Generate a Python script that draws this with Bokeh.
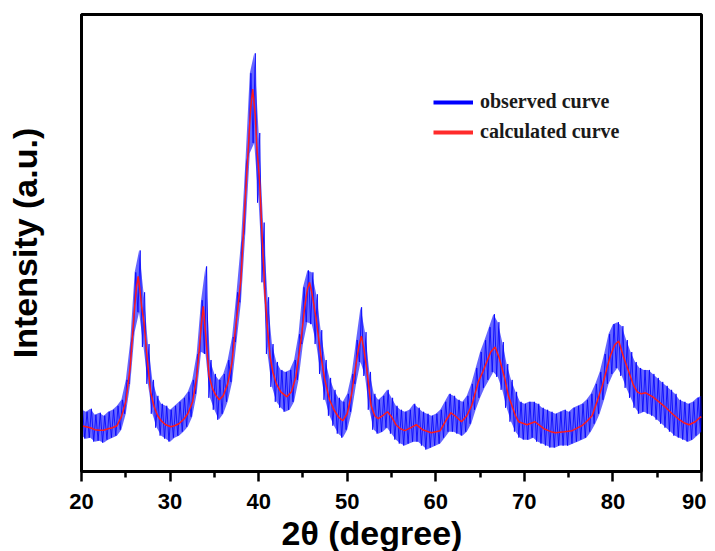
from bokeh.plotting import figure
from bokeh.models import Range1d, FixedTicker, Legend, LegendItem, Title
from bokeh.embed import file_html
from bokeh.resources import INLINE

# ---------------- data ----------------
x_ticks = [20, 30, 40, 50, 60, 70, 80, 90]
x_minor = [25, 35, 45, 55, 65, 75, 85]

# calculated (fitted) curve
calc_2theta = [
    20.0, 20.5, 21.0, 21.5, 22.0, 22.5, 23.0, 23.5, 24.0, 24.5,
    25.0, 25.5, 25.75, 26.0, 26.2, 26.4, 26.6, 26.8, 27.05, 27.4,
    27.8, 28.2, 28.6, 29.0, 29.5, 30.1, 30.5, 31.0, 31.6, 32.0,
    32.55, 33.0, 33.3, 33.5, 33.75, 34.0, 34.4, 34.8, 35.2, 35.55,
    36.0, 36.5, 37.0, 37.25, 37.6, 38.0, 38.4, 38.8, 39.1, 39.33,
    39.6, 39.8, 40.1, 40.45, 40.7, 41.0, 41.3, 41.6, 42.0, 42.5,
    43.2, 43.7, 44.2, 44.8, 45.2, 45.5, 45.75, 46.0, 46.5, 47.0,
    47.45, 48.0, 48.5, 49.0, 49.5, 50.0, 50.5, 51.0, 51.3, 51.6,
    51.9, 52.2, 52.7, 53.1, 53.5, 54.0, 54.55, 55.0, 55.5, 56.0,
    56.5, 57.2, 57.8, 58.5, 59.5, 60.5, 61.2, 61.7, 62.3, 62.9,
    63.5, 64.05, 64.8, 65.3, 65.75, 66.2, 66.7, 67.2, 67.8, 68.2,
    68.6, 69.0, 69.35, 70.3, 71.2, 72.2, 73.0, 73.5, 74.5, 75.4,
    76.5, 77.0, 77.65, 78.2, 78.8, 79.3, 79.7, 80.2, 80.65, 81.2,
    81.8, 82.3, 82.75, 83.2, 83.7, 84.5, 85.2, 86.0, 86.7, 87.5,
    88.0, 88.6, 89.3, 89.9, 90.0,
]
calc_intensity = [
    46, 45, 44, 42, 41.5, 41.5, 43, 44, 46, 55,
    70, 105, 136, 165, 185, 196, 182, 165, 150, 115,
    80, 65, 56, 51, 47, 45, 46, 48, 53, 58,
    70, 95, 123, 145, 166, 140, 96, 83, 76, 72,
    76, 88, 110, 133, 160, 193, 260, 320, 365, 384,
    360, 325, 293, 226, 180, 143, 115, 100, 88, 80,
    75, 80, 95, 133, 165, 183, 190, 180, 153, 118,
    93, 72, 62, 55, 51, 58, 78, 108, 125, 136,
    122, 103, 66, 56, 53, 56, 60, 55, 47, 43,
    41, 44, 47, 42, 39, 41, 52, 59, 55, 50,
    56, 66, 90, 100, 110, 120, 125, 113, 93, 76,
    66, 56, 50, 47, 50, 43, 40, 39, 40, 41,
    46, 50, 56, 70, 86, 103, 116, 127, 131, 115,
    100, 87, 80, 78, 79, 75, 70, 64, 58, 52,
    49, 47, 50, 55, 54,
]

# observed curve: noisy trace, upper / lower excursions every 0.5 degree
obs_2theta = [20.0 + 0.5 * i for i in range(141)]
obs_high = [
    62, 60, 63, 57, 59, 56, 60, 62, 66, 72,
    92, 130, 200, 222, 180, 128, 92, 76, 68, 66,
    62, 66, 70, 74, 80, 92, 118, 172, 206, 112,
    98, 92, 98, 112, 135, 180, 230, 310, 400, 420,
    340, 250, 175, 128, 110, 102, 100, 102, 112, 138,
    185, 202, 200, 178, 142, 112, 94, 82, 74, 70,
    78, 98, 132, 165, 140, 100, 78, 72, 76, 82,
    74, 66, 62, 60, 62, 68, 64, 60, 58, 56,
    58, 62, 70, 78, 76, 72, 70, 76, 88, 104,
    120, 132, 145, 158, 150, 130, 108, 92, 80, 70,
    68, 70, 70, 68, 64, 62, 60, 58, 60, 62,
    60, 64, 66, 68, 72, 78, 88, 100, 118, 138,
    148, 150, 146, 132, 120, 110, 104, 102, 102, 98,
    94, 90, 86, 82, 78, 72, 70, 68, 70, 74,
    76,
]
obs_low = [
    36, 33, 34, 30, 31, 29, 32, 34, 36, 42,
    58, 88, 140, 160, 125, 88, 58, 44, 36, 33,
    30, 34, 36, 40, 45, 55, 78, 120, 118, 74,
    62, 52, 58, 70, 90, 130, 170, 240, 320, 330,
    270, 190, 118, 85, 70, 64, 60, 62, 70, 92,
    128, 150, 148, 128, 98, 72, 56, 46, 38, 34,
    42, 60, 88, 110, 96, 62, 42, 38, 40, 44,
    38, 32, 28, 26, 28, 30, 30, 26, 22, 24,
    26, 28, 34, 40, 40, 38, 36, 40, 48, 62,
    74, 84, 92, 100, 95, 82, 64, 50, 40, 34,
    32, 32, 34, 30, 28, 26, 24, 24, 26, 26,
    26, 28, 30, 32, 34, 40, 48, 58, 72, 88,
    98, 104, 96, 84, 74, 64, 58, 60, 58, 56,
    52, 48, 44, 40, 36, 34, 32, 30, 32, 36,
    40,
]

legend_labels = ["observed curve", "calculated curve"]
x_title = "2θ (degree)"
y_title = "Intensity (a.u.)"

# ---------------- figure ----------------
p = figure(width=706, height=551, output_backend="svg", toolbar_location=None,
           x_range=Range1d(20, 90), y_range=Range1d(0, 459),
           min_border_left=81, min_border_right=5, min_border_top=14,
           min_border_bottom=78)
p.grid.visible = False
p.background_fill_color = "white"
p.border_fill_color = "white"
p.outline_line_color = "black"
p.outline_line_width = 3

# observed: dense noisy band + zigzag strokes between excursions
p.varea(x=obs_2theta, y1=obs_low, y2=obs_high, fill_color="#0000ff", fill_alpha=0.6)
zig_x, zig_y = [], []
for t, lo, hi in zip(obs_2theta, obs_low, obs_high):
    zig_x.extend([t - 0.125, t + 0.125])
    zig_y.extend([lo, hi])
p.line(zig_x, zig_y, line_color="#0000ff", line_width=0.9, line_alpha=0.9)

# calculated
p.line(calc_2theta, calc_intensity, line_color="#ff1a1a", line_width=1.5)

# legend sample lines (single-point proxies, nothing visible in the plot)
r_obs = p.line(calc_2theta[:1], calc_intensity[:1], line_color="#0000ff", line_width=4)
r_calc = p.line(calc_2theta[:1], calc_intensity[:1], line_color="#ff2b2b", line_width=4)
legend = Legend(items=[LegendItem(label=legend_labels[0], renderers=[r_obs]),
                       LegendItem(label=legend_labels[1], renderers=[r_calc])],
                location=(352, 328), orientation="vertical")
legend.background_fill_alpha = 0
legend.border_line_color = None
legend.glyph_width = 40
legend.glyph_height = 20
legend.label_height = 20
legend.label_standoff = 7
legend.spacing = 7
legend.padding = 0
legend.margin = 0
legend.label_text_font = "Liberation Serif"
legend.label_text_font_style = "bold"
legend.label_text_font_size = "20px"
legend.label_text_color = "#1a1a1a"
p.add_layout(legend)

# x axis
xa = p.xaxis[0]
xa.ticker = FixedTicker(ticks=x_ticks, minor_ticks=x_minor)
xa.axis_line_width = 3
xa.major_tick_line_width = 2.5
xa.minor_tick_line_width = 2.5
xa.major_tick_out = 10
xa.major_tick_in = 0
xa.minor_tick_out = 6
xa.minor_tick_in = 0
xa.major_label_standoff = 12
xa.major_label_text_font = "Liberation Sans"
xa.major_label_text_font_style = "bold"
xa.major_label_text_font_size = "22px"
xa.major_label_text_color = "black"

# x title, set a little left of centre as in the original
xt = Title(text=x_title, align="left", offset=200, standoff=0,
           text_font="Liberation Sans", text_font_style="bold",
           text_font_size="34px", text_color="black")
p.add_layout(xt, "below")

# y axis
ya = p.yaxis[0]
ya.ticker = FixedTicker(ticks=[])
ya.axis_line_width = 3
ya.major_tick_out = 0
ya.major_tick_in = 0
ya.minor_tick_out = 0
ya.minor_tick_in = 0
ya.major_label_text_font_size = "0px"
ya.axis_label = y_title
ya.axis_label_text_font = "Liberation Sans"
ya.axis_label_text_font_style = "bold"
ya.axis_label_text_font_size = "34px"
ya.axis_label_text_color = "black"
ya.axis_label_standoff = 38

open("out.html", "w").write(file_html(p, INLINE))
